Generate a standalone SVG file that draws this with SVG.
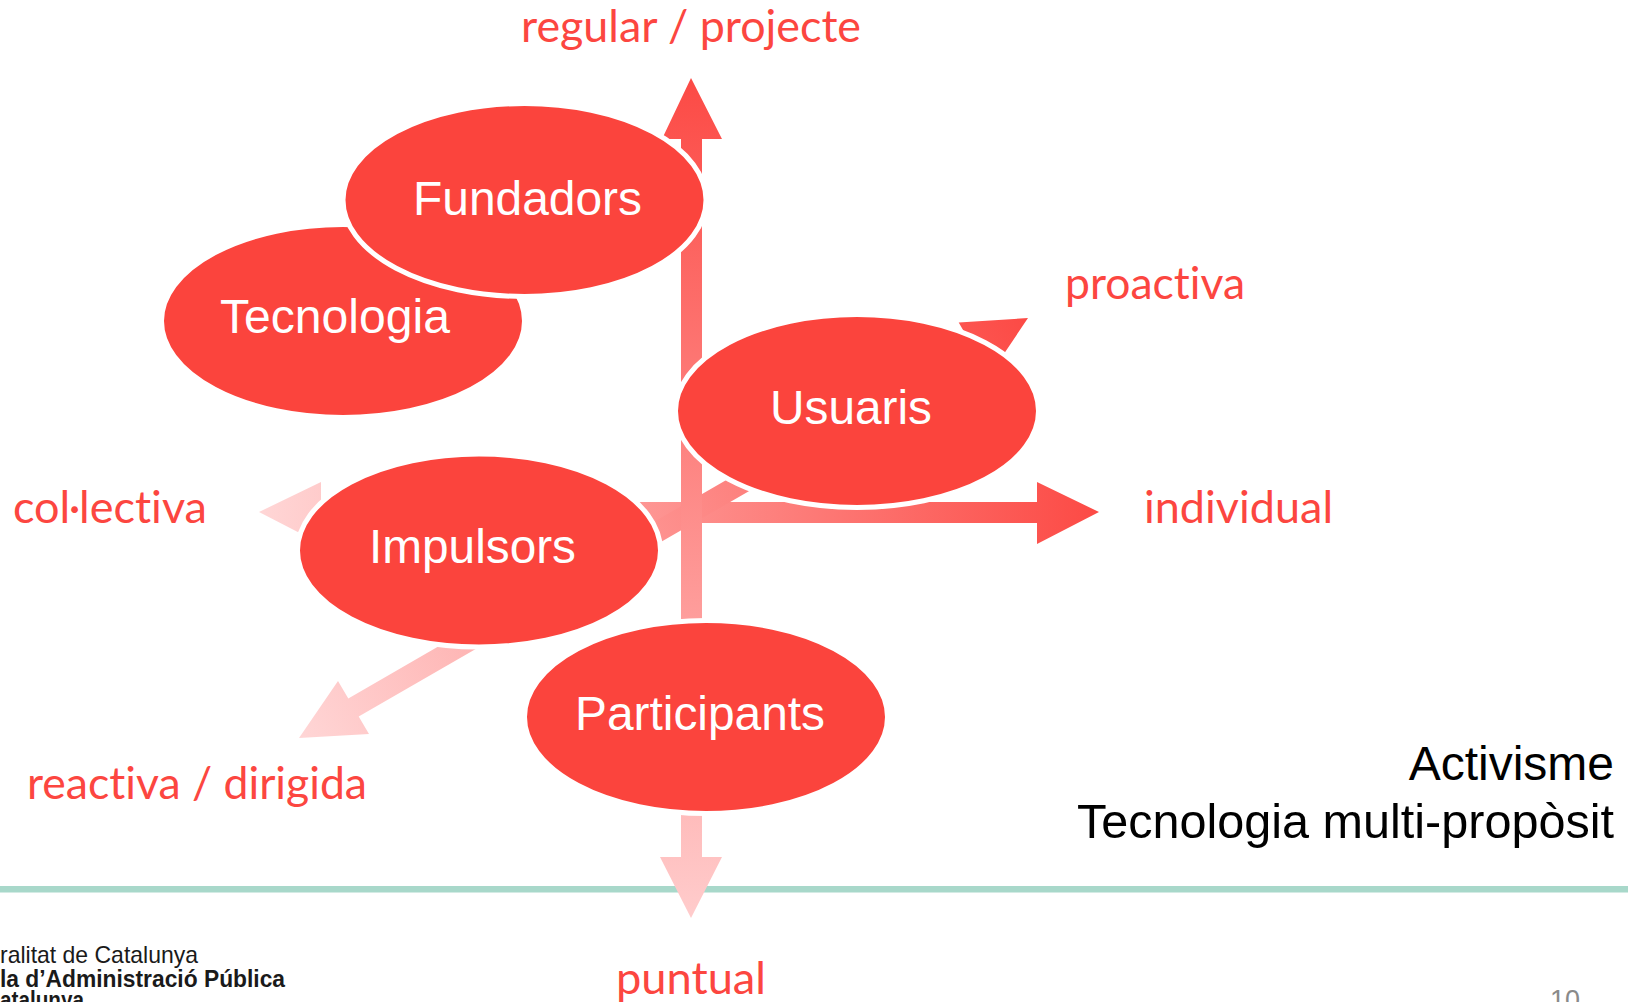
<svg xmlns="http://www.w3.org/2000/svg" width="1635" height="1002" viewBox="0 0 1635 1002">
<style>
.node{fill:#FB443D;stroke:#fff;stroke-width:5}
.nt{font-family:"Liberation Sans",Arial,sans-serif;font-size:47.5px;fill:#fff}
.lab{font-family:Lato,"Open Sans",sans-serif;font-size:44px;fill:#FC4640;font-variant-ligatures:none}
.side{font-family:"Liberation Sans",Arial,sans-serif;font-size:48px;fill:#000;text-anchor:end}
.logo{font-family:"Liberation Sans",Arial,sans-serif;font-size:24px;fill:#1a1a1a}
</style>
<defs>
<linearGradient id="gv" gradientUnits="userSpaceOnUse" x1="691" y1="78" x2="691" y2="918"><stop offset="0" stop-color="#FC4A45"/><stop offset="1" stop-color="#FFCCCC"/></linearGradient>
<linearGradient id="gh" gradientUnits="userSpaceOnUse" x1="1098" y1="512" x2="259" y2="512"><stop offset="0" stop-color="#FC4A45"/><stop offset="1" stop-color="#FFD6D6"/></linearGradient>
<linearGradient id="gd" gradientUnits="userSpaceOnUse" x1="1028" y1="318" x2="299" y2="738"><stop offset="0" stop-color="#FC4A45"/><stop offset="1" stop-color="#FFD6D6"/></linearGradient>
</defs>
<rect width="1635" height="1002" fill="#fff"/>
<rect id="rule" x="0" y="886" width="1628" height="6.5" fill="#A8D8CA"/>
<g id="connectors">
<polygon id="axis-horizontal" fill="url(#gh)" points="259,512 321,482 321,502 1037,502 1037,482 1099,512 1037,544 1037,523 321,523 321,544"/>
<polygon id="axis-diagonal" fill="url(#gd)" points="299,738 338,681 348.3,698.4 968.8,339.9 958.7,322.4 1028,318 989.3,375.6 979.2,358.1 358.7,716.6 369,734"/>
<polygon id="axis-vertical" fill="url(#gv)" points="691,78 722,139 702,139 702,857 722,857 691,918 660,857 681,857 681,139 662,139"/>
</g>
<g id="node-tecnologia"><ellipse class="node" cx="343" cy="321" rx="181.5" ry="96.5"/><text class="nt" x="220" y="333" textLength="230" lengthAdjust="spacingAndGlyphs">Tecnologia</text></g>
<g id="node-fundadors"><ellipse class="node" cx="524.5" cy="200" rx="181.5" ry="96.5"/><text class="nt" x="413" y="215" textLength="229" lengthAdjust="spacingAndGlyphs">Fundadors</text></g>
<g id="node-usuaris"><ellipse class="node" cx="857" cy="411" rx="181.5" ry="96.5"/><text class="nt" x="770" y="424" textLength="162" lengthAdjust="spacingAndGlyphs">Usuaris</text></g>
<g id="node-impulsors"><ellipse class="node" cx="479" cy="550.5" rx="181.5" ry="96.5"/><text class="nt" x="369" y="563" textLength="207" lengthAdjust="spacingAndGlyphs">Impulsors</text></g>
<g id="node-participants"><ellipse class="node" cx="706" cy="717" rx="181.5" ry="96.5"/><text class="nt" x="575" y="730" textLength="250" lengthAdjust="spacingAndGlyphs">Participants</text></g>
<g id="labels">
<text class="lab" x="521" y="42" textLength="340" lengthAdjust="spacingAndGlyphs">regular / projecte</text>
<text class="lab" x="1065" y="299" textLength="180" lengthAdjust="spacingAndGlyphs">proactiva</text>
<text class="lab" x="13" y="523" textLength="194" lengthAdjust="spacingAndGlyphs">col·lectiva</text>
<text class="lab" x="1144" y="523" textLength="189" lengthAdjust="spacingAndGlyphs">individual</text>
<text class="lab" x="27" y="799" textLength="340" lengthAdjust="spacingAndGlyphs">reactiva / dirigida</text>
<text class="lab" x="616" y="994" textLength="150" lengthAdjust="spacingAndGlyphs">puntual</text>
</g>
<text class="side" x="1614" y="780">Activisme</text>
<text class="side" x="1614" y="838" textLength="537" lengthAdjust="spacingAndGlyphs">Tecnologia multi-propòsit</text>
<g id="logo">
<text class="logo" x="0" y="963" textLength="198" lengthAdjust="spacingAndGlyphs">ralitat de Catalunya</text>
<text class="logo" x="0" y="987" font-weight="700" textLength="285" lengthAdjust="spacingAndGlyphs">la d’Administració Pública</text>
<text class="logo" x="0" y="1008" font-weight="700" textLength="84" lengthAdjust="spacingAndGlyphs">atalunya</text>
</g>
<text x="1550" y="1009" font-family="'Liberation Sans',Arial,sans-serif" font-size="27" fill="#8a8a8a">10</text>
</svg>
